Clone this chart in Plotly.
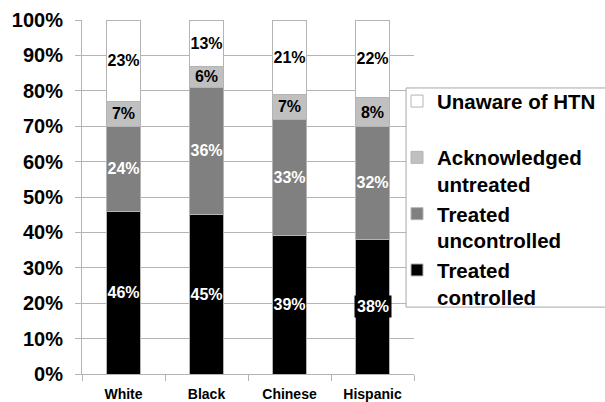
import plotly.graph_objects as go

groups = ["White", "Black", "Chinese", "Hispanic"]
treated_controlled = [46, 45, 39, 38]
treated_uncontrolled = [24, 36, 33, 32]
acknowledged_untreated = [7, 6, 7, 8]
unaware = [23, 13, 21, 22]

series = [
    ("Treated<br>controlled", treated_controlled, "#000000", "white"),
    ("Treated<br>uncontrolled", treated_uncontrolled, "#808080", "white"),
    ("Acknowledged<br>untreated", acknowledged_untreated, "#c0c0c0", "black"),
    ("Unaware of HTN<br>&nbsp;", unaware, "#ffffff", "black"),
]

FONT = "Liberation Sans, Arial, sans-serif"
fig = go.Figure()
for i, (name, vals, color, tcolor) in enumerate(series):
    texts = [f"{v}%" for v in vals]
    if i == 0:
        texts[3] = ""  # drawn as boxed annotation below
    fig.add_trace(go.Bar(
        x=groups, y=vals, name=name,
        marker=dict(color=color, line=dict(color="#b4b4b4", width=1)),
        text=texts, textposition="inside", insidetextanchor="middle",
        textangle=0, constraintext="none",
        textfont=dict(family=FONT, size=16, color=tcolor, weight="bold"),
    ))

fig.add_annotation(
    x=groups[3], y=treated_controlled[3] / 2, text=f"{treated_controlled[3]}%",
    showarrow=False, bgcolor="black", borderpad=2,
    font=dict(family=FONT, size=16, color="white", weight="bold"),
)

# legend frame (white box with grey border, running off the right edge)
fig.add_shape(
    type="rect", xref="paper", yref="paper",
    x0=0.976, x1=1.7, y0=0.189, y1=0.808,
    fillcolor="white", line=dict(color="#a8a8a8", width=1), layer="above",
)

fig.update_layout(
    barmode="stack", bargap=0.6,
    width=605, height=402,
    margin=dict(l=82, r=191, t=20, b=28, autoexpand=False),
    paper_bgcolor="white", plot_bgcolor="white",
    font=dict(family=FONT, color="black"),
    legend=dict(
        x=0.9488, y=0.827, xanchor="left", yanchor="top",
        traceorder="reversed", valign="top",
        borderwidth=0, bgcolor="rgba(0,0,0,0)",
        font=dict(family=FONT, size=20.5, color="black", weight="bold"),
    ),
)
fig.update_yaxes(
    range=[0, 100], dtick=10, ticksuffix="%",
    showgrid=True, gridcolor="#b4b4b4", gridwidth=1,
    showline=True, linecolor="#b4b4b4", linewidth=1,
    ticks="outside", ticklen=6, tickcolor="#b4b4b4",
    ticklabelstandoff=8,
    tickfont=dict(family=FONT, size=20, color="black", weight="bold"),
    zeroline=False,
)
fig.update_xaxes(
    showline=True, linecolor="#b4b4b4", linewidth=1,
    ticks="outside", ticklen=6, tickcolor="#b4b4b4", tickson="boundaries",
    ticklabelstandoff=7,
    tickfont=dict(family=FONT, size=14, color="black", weight="bold"),
)

fig.write_html("out.html")
